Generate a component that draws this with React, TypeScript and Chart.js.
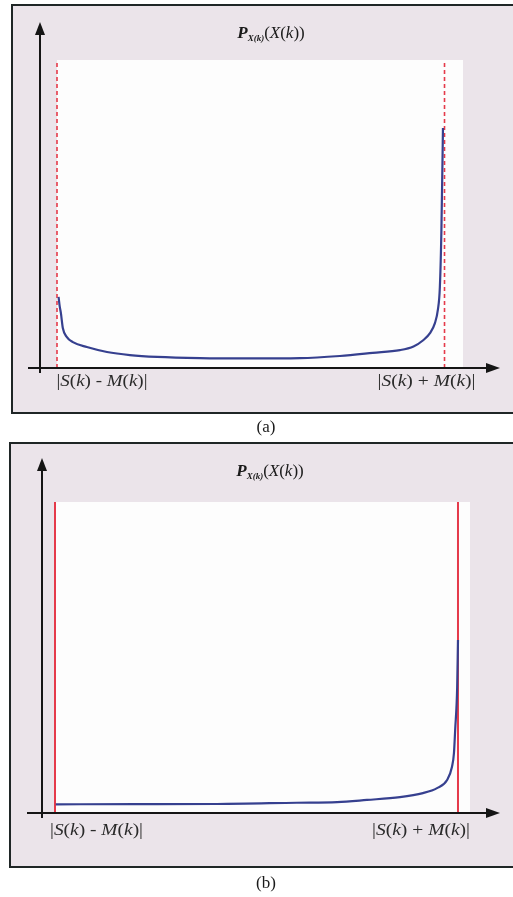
import React, { useEffect, useRef } from 'react';
import { Chart, registerables } from 'chart.js';

Chart.register(...registerables);

// ---- data ----
// Panel (a): U-shaped density between |S-M| (x=0) and |S+M| (x=1)
const xA = [0.004, 0.007, 0.010, 0.015, 0.025, 0.041, 0.077, 0.129, 0.188, 0.258, 0.369, 0.498, 0.627, 0.730, 0.815, 0.885, 0.920, 0.945, 0.963, 0.975, 0.983, 0.988, 0.992, 0.996];
const yA = [23.1, 20.0, 17.9, 13.0, 10.1, 8.4, 6.8, 5.2, 4.2, 3.6, 3.2, 3.1, 3.2, 3.9, 4.9, 5.8, 7.0, 9.0, 11.4, 14.5, 19.0, 26.3, 44.8, 77.9];
// Panel (b): density rising only at the upper bound
const xB = [0.002, 0.200, 0.402, 0.600, 0.700, 0.774, 0.856, 0.913, 0.948, 0.973, 0.985, 0.990, 0.993, 0.998, 1.000];
const yB = [2.8, 2.85, 2.9, 3.3, 3.5, 4.2, 5.1, 6.4, 8.0, 10.6, 14.8, 19.3, 26.7, 40.5, 55.6];
// bounds and tick labels
const boundValues = [0, 1];
const tickLabels = ['|S(k) - M(k)|', '|S(k) + M(k)|'];
const titleMain = 'P';
const titleSub = 'X(k)';
const titleArg = '(X(k))';
const captions = ['(a)', '(b)'];

// ---- styles ----
const BG = '#ebe4ea';
const PLOT_BG = '#fdfdfd';
const FRAME = '#1f2626';
const CURVE = '#36408f';
const RED = '#e53a4a';
const SERIF = '"Liberation Serif", "DejaVu Serif", serif';

type Seg = { t: string; st: 'n' | 'i' | 'bi' | 'sub' };

function fontFor(st: Seg['st'], size: number) {
  if (st === 'i') return `italic ${size}px ${SERIF}`;
  if (st === 'bi') return `bold italic ${size}px ${SERIF}`;
  if (st === 'sub') return `bold italic ${Math.round(size * 0.55)}px ${SERIF}`;
  return `${size}px ${SERIF}`;
}

function splitMath(s: string): Seg[] {
  const segs: Seg[] = [];
  for (const ch of s) {
    const st: Seg['st'] = /[A-Za-z]/.test(ch) ? 'i' : 'n';
    const last = segs[segs.length - 1];
    if (last && last.st === st) last.t += ch;
    else segs.push({ t: ch, st });
  }
  return segs;
}

function drawRich(ctx: CanvasRenderingContext2D, segs: Seg[], cx: number, cy: number, size: number, targetW?: number) {
  const parts = segs.map((s) => {
    ctx.font = fontFor(s.st, size);
    return { ...s, w: ctx.measureText(s.t).width };
  });
  const total = parts.reduce((a, p) => a + p.w, 0);
  const sx = targetW ? targetW / total : 1;
  ctx.save();
  ctx.translate(cx - (total * sx) / 2, cy);
  ctx.scale(sx, 1);
  ctx.textBaseline = 'middle';
  ctx.textAlign = 'left';
  let x = 0;
  for (const p of parts) {
    ctx.font = fontFor(p.st, size);
    ctx.fillText(p.t, x, p.st === 'sub' ? size * 0.3 : 0);
    x += p.w;
  }
  ctx.restore();
}

type PanelCfg = {
  xs: number[];
  ys: number[];
  xMax: number;
  height: number;
  pad: { left: number; right: number; top: number; bottom: number };
  frame: { left: number; top: number; bottom: number };
  yAxis: { x: number; bottom: number; tip: number };
  xAxis: { left: number; tip: number };
  title: { x: number; y: number };
  labelDy: number;
  labelDx: [number, number];
  labelW: [number, number];
  caption: { text: string; x: number; y: number };
  dashed: boolean;
};

const PANEL_A: PanelCfg = {
  xs: xA,
  ys: yA,
  xMax: 1.0477,
  height: 440,
  pad: { left: 57, right: 50, top: 60, bottom: 72 },
  frame: { left: 12, top: 5, bottom: 413 },
  yAxis: { x: 40, bottom: 373, tip: 22 },
  xAxis: { left: 28, tip: 500 },
  title: { x: 271, y: 34 },
  labelDy: 14,
  labelDx: [45, -18],
  labelW: [91, 98],
  caption: { text: captions[0], x: 266, y: 428 },
  dashed: true,
};

const PANEL_B: PanelCfg = {
  xs: xB,
  ys: yB,
  xMax: 1.0298,
  height: 457,
  pad: { left: 55, right: 43, top: 62, bottom: 84 },
  frame: { left: 10, top: 3, bottom: 427 },
  yAxis: { x: 42, bottom: 378, tip: 18 },
  xAxis: { left: 27, tip: 500 },
  title: { x: 270, y: 32 },
  labelDy: 18,
  labelDx: [41.5, -37],
  labelW: [93, 98],
  caption: { text: captions[1], x: 266, y: 444 },
  dashed: false,
};

function makeChart(canvas: HTMLCanvasElement, cfg: PanelCfg) {
  const decor = {
    id: 'decor',
    beforeDraw(chart: any) {
      const { ctx, chartArea: ca, width, height } = chart;
      ctx.save();
      ctx.fillStyle = '#ffffff';
      ctx.fillRect(0, 0, width, height);
      ctx.fillStyle = BG;
      ctx.fillRect(cfg.frame.left, cfg.frame.top, width - cfg.frame.left + 10, cfg.frame.bottom - cfg.frame.top);
      ctx.strokeStyle = FRAME;
      ctx.lineWidth = 2;
      ctx.strokeRect(cfg.frame.left, cfg.frame.top, width - cfg.frame.left + 10, cfg.frame.bottom - cfg.frame.top);
      ctx.fillStyle = PLOT_BG;
      ctx.fillRect(ca.left, ca.top, ca.right - ca.left, ca.bottom - ca.top);
      ctx.restore();
    },
    afterDraw(chart: any) {
      const { ctx } = chart;
      const xs = chart.scales.x;
      const ys = chart.scales.y;
      const y0 = ys.getPixelForValue(0);
      ctx.save();
      ctx.strokeStyle = '#151515';
      ctx.fillStyle = '#151515';
      ctx.lineWidth = 2;
      // y axis
      ctx.beginPath();
      ctx.moveTo(cfg.yAxis.x, cfg.yAxis.bottom);
      ctx.lineTo(cfg.yAxis.x, cfg.yAxis.tip + 10);
      ctx.stroke();
      ctx.beginPath();
      ctx.moveTo(cfg.yAxis.x, cfg.yAxis.tip);
      ctx.lineTo(cfg.yAxis.x - 5, cfg.yAxis.tip + 13);
      ctx.lineTo(cfg.yAxis.x + 5, cfg.yAxis.tip + 13);
      ctx.closePath();
      ctx.fill();
      // x axis
      ctx.beginPath();
      ctx.moveTo(cfg.xAxis.left, y0);
      ctx.lineTo(cfg.xAxis.tip - 10, y0);
      ctx.stroke();
      ctx.beginPath();
      ctx.moveTo(cfg.xAxis.tip, y0);
      ctx.lineTo(cfg.xAxis.tip - 14, y0 - 5);
      ctx.lineTo(cfg.xAxis.tip - 14, y0 + 5);
      ctx.closePath();
      ctx.fill();
      // title
      ctx.fillStyle = '#1a1a1a';
      drawRich(
        ctx,
        [{ t: titleMain, st: 'bi' }, { t: titleSub, st: 'sub' }, ...splitMath(titleArg)],
        cfg.title.x,
        cfg.title.y,
        17
      );
      // bound labels
      ctx.fillStyle = '#2a2a2a';
      boundValues.forEach((v, i) => {
        drawRich(ctx, splitMath(tickLabels[i]), xs.getPixelForValue(v) + cfg.labelDx[i], y0 + cfg.labelDy, 17, cfg.labelW[i]);
      });
      // caption
      ctx.fillStyle = '#1a1a1a';
      ctx.font = `17px ${SERIF}`;
      ctx.textAlign = 'center';
      ctx.textBaseline = 'middle';
      ctx.fillText(cfg.caption.text, cfg.caption.x, cfg.caption.y);
      ctx.restore();
    },
  };

  const boundSet = (v: number) => ({
    data: [
      { x: v, y: 0 },
      { x: v, y: 100 },
    ],
    borderColor: RED,
    borderWidth: cfg.dashed ? 1.6 : 2,
    borderDash: cfg.dashed ? [4, 3] : [],
    pointRadius: 0,
    clip: false as any,
    order: 2,
  });

  return new Chart(canvas, {
    type: 'line',
    data: {
      datasets: [
        boundSet(boundValues[0]),
        boundSet(boundValues[1]),
        {
          data: cfg.xs.map((x, i) => ({ x, y: cfg.ys[i] })),
          borderColor: CURVE,
          borderWidth: 2.2,
          pointRadius: 0,
          cubicInterpolationMode: 'monotone',
          clip: false as any,
          order: 1,
        },
      ],
    },
    options: {
      responsive: false,
      animation: false,
      devicePixelRatio: 1,
      layout: { padding: cfg.pad },
      plugins: { legend: { display: false }, tooltip: { enabled: false }, title: { display: false } },
      scales: {
        x: { type: 'linear', min: 0, max: cfg.xMax, display: false },
        y: { type: 'linear', min: 0, max: 100, display: false },
      },
      events: [],
    },
    plugins: [decor],
  } as any);
}

export default function App() {
  const refA = useRef<HTMLCanvasElement>(null);
  const refB = useRef<HTMLCanvasElement>(null);
  useEffect(() => {
    const charts = [makeChart(refA.current!, PANEL_A), makeChart(refB.current!, PANEL_B)];
    return () => charts.forEach((c) => c.destroy());
  }, []);
  return (
    <div style={{ position: 'absolute', left: 0, top: 0, width: 513, height: 897, background: '#fff', overflow: 'hidden' }}>
      <canvas ref={refA} width={513} height={440} style={{ position: 'absolute', left: 0, top: 0, width: 513, height: 440 }} />
      <canvas ref={refB} width={513} height={457} style={{ position: 'absolute', left: 0, top: 440, width: 513, height: 457 }} />
    </div>
  );
}
